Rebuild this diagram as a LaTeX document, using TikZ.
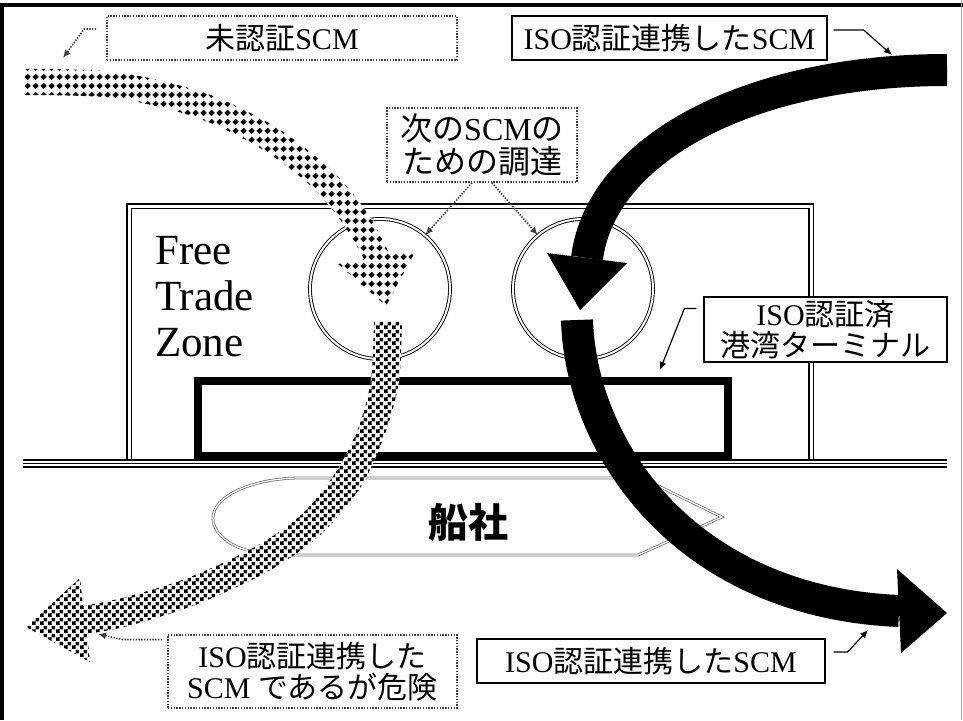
\documentclass[tikz,border=0pt]{standalone}
\usepackage{fontspec}
\setmainfont{Liberation Serif}
\newfontfamily\jp{Noto Sans CJK JP}
\usetikzlibrary{arrows.meta,patterns,calc}

\pgfdeclarepatternformonly{bigchecker}{\pgfpointorigin}{\pgfqpoint{8pt}{8pt}}{\pgfqpoint{8pt}{8pt}}{%
    \pgfpathrectangle{\pgfpointorigin}{\pgfqpoint{4pt}{4pt}}%
    \pgfpathrectangle{\pgfqpoint{4pt}{4pt}}{\pgfqpoint{4pt}{4pt}}%
    \pgfusepath{fill}}
\pgfdeclarepatternformonly{diamonddots}{\pgfpointorigin}{\pgfqpoint{8pt}{9pt}}{\pgfqpoint{8pt}{9pt}}{%
    \pgfpathmoveto{\pgfqpoint{4pt}{0.9pt}}%
    \pgfpathlineto{\pgfqpoint{7.5pt}{4.5pt}}%
    \pgfpathlineto{\pgfqpoint{4pt}{8.1pt}}%
    \pgfpathlineto{\pgfqpoint{0.5pt}{4.5pt}}%
    \pgfpathclose
    \pgfusepath{fill}}

\newcommand{\ja}[1]{{\jp #1}}

\begin{document}
\begin{tikzpicture}[
    x=1pt, y=-1pt,
    lbl/.style={draw, fill=white, line width=1.2pt, inner sep=0pt, align=center,
        font=\fontsize{30}{31}\selectfont},
    dotlbl/.style={lbl, draw=black!75, line width=1.6pt, dash pattern=on 1.4pt off 1.4pt},
    ptr/.style={line width=1.2pt, -{Latex[length=8pt,width=7pt]}},
    dotptr/.style={ptr, draw=black!75, line width=1.6pt, dash pattern=on 1.4pt off 1.4pt},
    ring/.style={circle, draw, double, double distance=2pt, line width=0.9pt,
        minimum size=140pt, inner sep=0pt},
    band/.style={preaction={fill=white}}
]
\useasboundingbox (0,0) rectangle (963,720);
\fill[white] (0,0) rectangle (963,720);
\draw[line width=3.5pt] (2,720) -- (2,5) -- (963,5);
\draw[black!35, line width=1pt] (961,0) -- (961,720);

\draw[line width=1.1pt, double, double distance=3pt] (129,462) |- (811,206) -- (811,462);
\node[draw, line width=7.5pt, minimum width=530pt, minimum height=74.5pt, inner sep=0pt] (terminal) at (463,418.25) {};
\draw[line width=2pt, double, double distance=5pt] (23,463.5) -- (947,463.5);
\draw[line width=0.8pt] (23,463.5) -- (947,463.5);

\draw[black!55, line width=0.8pt, double, double distance=1.2pt]
    (300,478) -- (642,478) -- (722,517) -- (638,555) -- (283,555)
    .. controls (240,555) and (213,538) .. (213,518)
    .. controls (213,495) and (255,478) .. (300,478) -- cycle;
\node[font=\jp\bfseries\fontsize{40}{40}\selectfont] (ship) at (468,522) {船社};

\node[ring] (ringL) at (380,289) {};
\node[ring] (ringR) at (583,289) {};
\node[anchor=west, align=left, inner sep=0pt, font=\fontsize{43}{46}\selectfont] (ftz) at (155,297) {Free\\Trade\\Zone};

\fill[band, pattern=diamonddots] (25,95) -- (25,69)
    -- plot[smooth] coordinates {(25,69) (116,72) (205,93) (274,126) (329,168) (366,211) (390,255)}
    -- (416,250) -- (386,306) -- (338,264) -- (364,259)
    -- plot[smooth] coordinates {(364,259) (344,225) (311,186) (260,148) (195,117) (114,98) (25,95)} -- cycle;

\fill[band, pattern=bigchecker]
    plot[smooth] coordinates {(374,321) (371,379) (359,426) (336,472) (301,515) (253,548) (185,579) (122,598) (83,606)}
    -- (80,578) -- (26,627) -- (90,662) -- (87,634)
    -- plot[smooth] coordinates {(87,634) (128,626) (195,605) (267,572) (319,536) (360,488) (385,434) (399,381) (402,321)} -- cycle;

\draw[line width=32pt] (947,70) .. controls (747,70) and (601,150) .. (587,258);
\fill (547,253) -- (580,310) -- (627,263) -- cycle;
\draw[line width=32pt] (577,320) .. controls (581,450) and (687,602) .. (899,611);
\fill (897,569) -- (947,613) -- (901,653) -- cycle;

\node[dotlbl, minimum width=350pt, minimum height=44pt] (unauth) at (282,38) {\ja{未認証}SCM};
\node[dotlbl, minimum width=190pt, minimum height=74pt, font=\fontsize{32}{33}\selectfont] (procure) at (482,145) {\ja{次の}SCM\ja{の}\\\ja{ための調達}};
\node[lbl, minimum width=315pt, minimum height=44pt] (isoTop) at (669.5,38) {ISO\ja{認証連携した}SCM};
\node[lbl, minimum width=243pt, minimum height=65pt] (isoPort) at (825.5,329.5) {ISO\ja{認証済}\\\ja{港湾ターミナル}};
\node[lbl, minimum width=348pt, minimum height=44pt] (isoBot) at (651,661) {ISO\ja{認証連携した}SCM};
\node[dotlbl, minimum width=289pt, minimum height=73pt] (risky) at (312.5,671.5) {ISO\ja{認証連携した}\\SCM \ja{であるが危険}};

\coordinate (tipA) at (63,58);
\coordinate (tipC) at (892,55);
\coordinate (tipD) at (660,370);
\coordinate (tipE) at (868,630);
\coordinate (tipF) at (98,634);

\draw[dotptr] ($(unauth.west)+(-10,-9)$) -- ++(-12,0) -- (tipA);
\draw[dotptr] ($(procure.south)+(-10,0)$) -- (ringL.50);
\draw[dotptr] ($(procure.south)+(10,0)$) -- (ringR.130);
\draw[ptr] ($(isoTop.east)+(6,-8)$) -- ++(30,0) -- (tipC);
\draw[ptr] ($(isoPort.west)+(-7,-21)$) -- ++(-12,0) -- (tipD);
\draw[ptr] ($(isoBot.east)+(8,-9)$) -- ++(14,0) -- (tipE);
\draw[dotptr] ($(risky.west)+(-5,-32)$) -- ++(-40,0) -- (tipF);
\end{tikzpicture}
\end{document}
